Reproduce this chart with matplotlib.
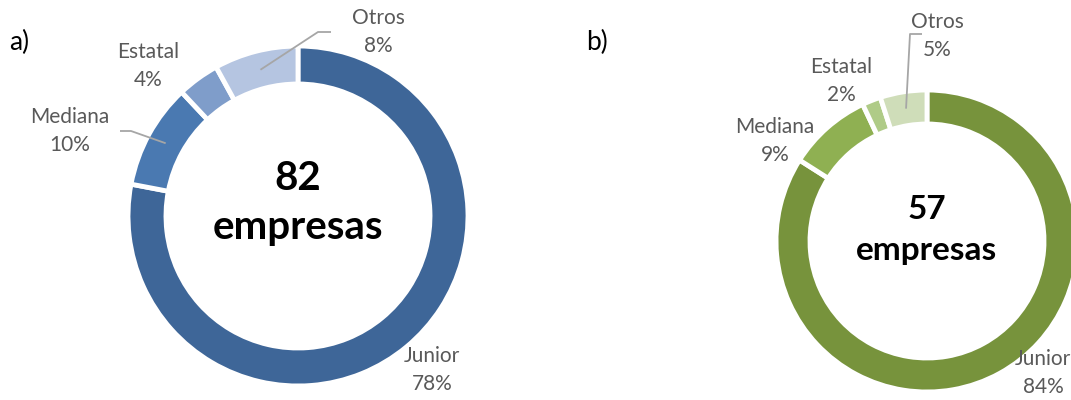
import numpy as np
import matplotlib.pyplot as plt

# ============ Data ============
categories = ['Junior', 'Mediana', 'Estatal', 'Otros']
pct_a = [78, 10, 4, 8]
pct_b = [84, 9, 2, 5]
total_a = 82
total_b = 57
colors_a = ['#3E6698', '#4A79B1', '#7F9DCA', '#B5C5E1']
colors_b = ['#77933C', '#8FB052', '#AFCB87', '#CFDDB9']

W, H = 1071, 400
plt.rcParams['font.family'] = ['Lato', 'DejaVu Sans']
GRAY = '#595959'
LINE = '#A6A6A6'


def px(x, y):
    return x, H - y


fig = plt.figure(figsize=(W / 100, H / 100), dpi=100)
ax = fig.add_axes([0, 0, 1, 1])
ax.set_xlim(0, W)
ax.set_ylim(0, H)
ax.set_aspect('equal')
ax.axis('off')


def donut(pcts, total, colors, center, r, width, total_size, label_pos, leaders):
    cx, cy = px(*center)
    ax.pie(pcts, colors=colors, startangle=90, counterclock=False,
           center=(cx, cy), radius=r, frame=True,
           wedgeprops=dict(width=width, edgecolor='white', linewidth=3.5))
    s = sum(pcts)
    # mid angles of wedges
    ang = 90.0
    mids = []
    for p in pcts:
        span = 360.0 * p / s
        mids.append(ang - span / 2)
        ang -= span
    for i, (cat, p) in enumerate(zip(categories, pcts)):
        lx, ly = label_pos[i]
        ax.text(*px(lx, ly - 14), cat, ha='center', va='center', fontsize=15, color=GRAY)
        ax.text(*px(lx, ly + 14), f'{p}%', ha='center', va='center', fontsize=15, color=GRAY)
        if i in leaders:
            rm = r - width / 2
            sx = cx + rm * np.cos(np.radians(mids[i]))
            sy = cy + rm * np.sin(np.radians(mids[i]))
            pts = [px(*q) for q in leaders[i]]
            xs = [sx] + [q[0] for q in pts]
            ys = [sy] + [q[1] for q in pts]
            ax.plot(xs, ys, color=LINE, lw=1.3, solid_capstyle='butt')
    ax.text(*px(center[0], center[1] - 39 * total_size / 30), str(total), ha='center', va='center',
            fontsize=total_size, fontweight='bold', color='black')
    ax.text(*px(center[0], center[1] + 12 * total_size / 30), 'empresas', ha='center', va='center',
            fontsize=total_size, fontweight='bold', color='black')


# ============ Chart a ============
donut(pct_a, total_a, colors_a, center=(298, 216), r=170, width=38, total_size=29,
      label_pos=[(432, 370), (70, 131), (148, 66), (378, 32)],
      leaders={1: [(131, 131), (120, 131)], 3: [(318, 32), (331, 32)]})
ax.text(*px(19, 42), 'a)', ha='center', va='center', fontsize=19, color='black')

# ============ Chart b ============
donut(pct_b, total_b, colors_b, center=(927, 241), r=151, width=34, total_size=24,
      label_pos=[(1043, 373), (775, 141), (841, 81), (937, 36)],
      leaders={3: [(910, 34), (922, 34)]})
ax.text(*px(597, 42), 'b)', ha='center', va='center', fontsize=19, color='black')

ax.set_xlim(0, W)
ax.set_ylim(0, H)
ax.set_xticks([])
ax.set_yticks([])
for sp in ax.spines.values():
    sp.set_visible(False)

fig.savefig('out.png', dpi=100)
